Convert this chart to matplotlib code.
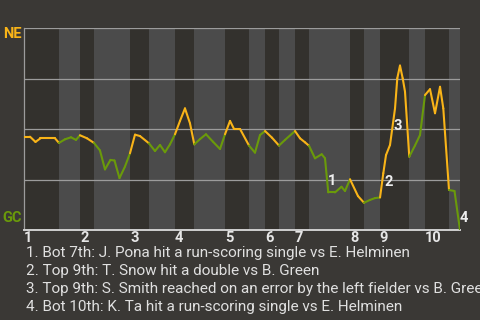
import numpy as np
import matplotlib
matplotlib.use("Agg")
import matplotlib.pyplot as plt
from matplotlib.collections import LineCollection

plt.rcParams['font.family'] = ['Roboto', 'DejaVu Sans']

# game progress (0-100) and NE win probability for each play
progress = [0.0, 1.31, 2.57, 3.72, 7.05, 7.96, 9.34, 10.72, 11.86, 12.78,
            14.39, 16.0, 17.37, 18.52, 19.78, 20.70, 21.85, 23.11, 24.26,
            25.41, 26.56, 28.62, 30.0, 31.15, 32.29, 33.44, 34.59,
            35.74, 36.88, 38.03, 39.02, 40.33, 41.70, 43.31, 44.92, 46.07,
            47.22, 48.14, 49.52, 51.58, 52.95, 54.10, 55.25,
            56.85, 58.46, 59.84, 62.13, 63.28, 64.43, 65.35,
            66.72, 68.26, 69.02, 69.77, 71.31, 72.80, 73.61, 74.76,
            76.59, 77.97, 79.35, 80.50, 81.65,
            82.40, 83.02, 83.94, 85.09, 85.61, 86.23, 86.85, 87.38, 88.36,
            89.67, 90.82, 91.97, 93.12, 94.27, 95.42, 96.17, 97.48,
            98.74, 100.0]
win_prob = [0.462, 0.462, 0.436, 0.454, 0.454, 0.431, 0.449, 0.459, 0.446, 0.469,
            0.454, 0.431, 0.394, 0.300, 0.347, 0.344, 0.257, 0.314, 0.380,
            0.472, 0.465, 0.429, 0.391, 0.421, 0.385, 0.424, 0.474,
            0.540, 0.602, 0.528, 0.424, 0.450, 0.474, 0.437, 0.401, 0.474,
            0.540, 0.500, 0.500, 0.418, 0.383, 0.470, 0.490,
            0.457, 0.418, 0.446, 0.490, 0.454, 0.434, 0.417,
            0.355, 0.375, 0.355, 0.186, 0.186, 0.214, 0.193, 0.251,
            0.168, 0.135, 0.149, 0.158, 0.161,
            0.281, 0.371, 0.421, 0.602, 0.751, 0.814, 0.751, 0.685, 0.363,
            0.418, 0.470, 0.668, 0.697, 0.578, 0.709, 0.602, 0.198,
            0.193, 0.0]

# half-inning boundaries (top = NE batting, bottom = GC batting)
half_innings = [0, 8.0, 12.8, 16.0, 24.3, 28.6, 34.6, 39.0, 46.1, 51.6, 55.2,
                58.5, 62.1, 65.4, 74.8, 78.0, 81.6, 88.3, 92.0, 97.5, 100]
inning_labels = ['1', '2', '3', '4', '5', '6', '7', '8', '9', '10']

# key plays: index into the play list, label offset in points
key_plays = [53, 62, 66, 81]
key_offsets = [(3, 8), (6, 11), (2, -13), (3, 9)]
key_texts = [
    "1. Bot 7th: J. Pona hit a run-scoring single vs E. Helminen",
    "2. Top 9th: T. Snow hit a double vs B. Green",
    "3. Top 9th: S. Smith reached on an error by the left fielder vs B. Green",
    "4. Bot 10th: K. Ta hit a run-scoring single vs E. Helminen",
]

bg = '#3a3835'
dark_band = '#33312d'
light_band = '#4b4b4b'
ne_color = '#f9b418'
gc_color = '#6a9a0a'

fig = plt.figure(figsize=(4.8, 3.2), dpi=100, facecolor=bg)
ax = fig.add_axes([0.0506, 0.28125, 0.9077, 0.63125])
ax.set_facecolor(dark_band)

for i in range(len(half_innings) - 1):
    c = dark_band if i % 2 == 0 else light_band
    ax.axvspan(half_innings[i], half_innings[i + 1], color=c, lw=0, zorder=0)

for g in [0.25, 0.5, 0.75, 1.0]:
    ax.axhline(g, color='#9c9c9c', lw=0.9, zorder=1)

x = np.array(progress)
y = np.array(win_prob)
segs = np.stack([np.column_stack([x[:-1], y[:-1]]), np.column_stack([x[1:], y[1:]])], axis=1)
mids = (x[:-1] + x[1:]) / 2
half_idx = np.searchsorted(half_innings, mids) - 1
colors = [ne_color if h % 2 == 0 else gc_color for h in half_idx]
lc = LineCollection(segs, colors=colors, linewidths=1.5, zorder=3, capstyle='round', joinstyle='round')
ax.add_collection(lc)

for n, (idx, off) in enumerate(zip(key_plays, key_offsets)):
    ax.annotate(str(n + 1), xy=(x[idx], y[idx]), xytext=off, textcoords='offset points',
                ha='center', va='center', fontsize=10.5, fontweight='bold',
                color='#eeeeee', zorder=4, annotation_clip=False)

ax.set_xlim(0, 100)
ax.set_ylim(0, 1)
ax.set_yticks([])
ax.set_xticks(half_innings[0:20:2])
ax.set_xticklabels(inning_labels, fontsize=10.5, fontweight='bold', color='#e6e6e6')
for lab in ax.get_xticklabels():
    lab.set_horizontalalignment('left')
ax.tick_params(axis='x', length=0, pad=0.5)
for s in ['top', 'right']:
    ax.spines[s].set_visible(False)
ax.spines['left'].set_color('#9c9c9c')
ax.spines['left'].set_linewidth(0.9)
ax.spines['bottom'].set_color('#d0d0d0')
ax.spines['bottom'].set_linewidth(1.4)

fig.text(12 / 480, 1 - 34 / 320, 'NE', ha='center', va='center', fontsize=10.5,
         fontweight='bold', color=ne_color)
fig.text(12 / 480, 1 - 218 / 320, 'GC', ha='center', va='center', fontsize=10.5,
         fontweight='bold', color=gc_color)

for k, t in enumerate(key_texts):
    fig.text(25.5 / 480, 1 - (253.3 + 17.8 * k) / 320, t, ha='left', va='center',
             fontsize=11, color='#e0e0e0')

fig.savefig('out.png', dpi=100, facecolor=bg)
